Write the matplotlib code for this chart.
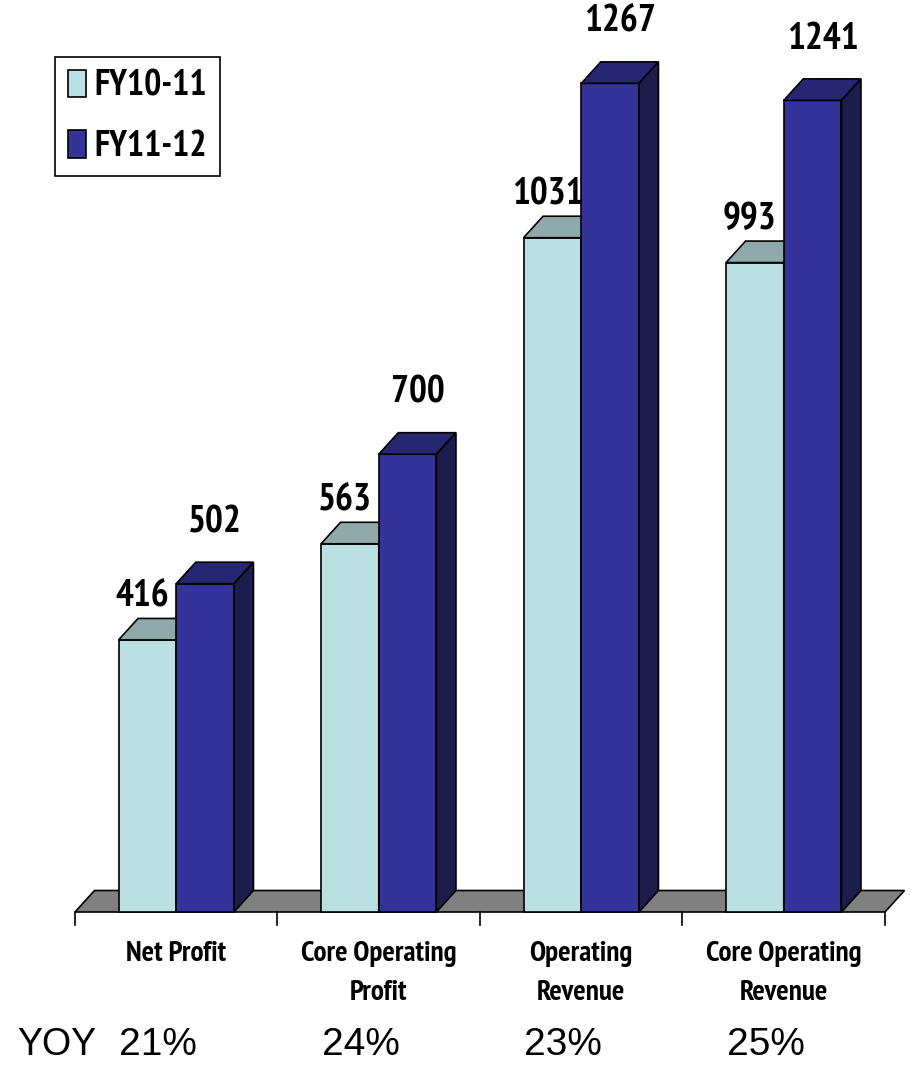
import matplotlib.pyplot as plt
from matplotlib.patches import Polygon, Patch

categories = ['Net Profit', 'Core Operating\nProfit', 'Operating\nRevenue', 'Core Operating\nRevenue']
fy10_11 = [416, 563, 1031, 993]
fy11_12 = [502, 700, 1267, 1241]
yoy = ['21%', '24%', '23%', '25%']
series = ['FY10-11', 'FY11-12']

# colours: front, top, side
light = ('#BBE0E3', '#8FA9AB', '#6E8A8C')
dark = ('#333399', '#262673', '#1C1C4D')

W, H = 912, 1073
X0, Y0 = 75, 912        # pixel position of the floor's front-left corner
PX_CAT = 202.5          # pixels per category
PX_VAL = 0.654          # pixels per unit value

def px_x(p):
    return -0.5 + (p - X0) / PX_CAT

def px_y(p):
    return (Y0 - p) / PX_VAL

narrow = ['Arial Narrow', 'Liberation Sans Narrow', 'PT Sans Narrow',
          'Archivo Narrow', 'Roboto Condensed', 'DejaVu Sans']
regular = ['Arial', 'Liberation Sans', 'Arimo', 'DejaVu Sans']

fig = plt.figure(figsize=(W / 100, H / 100), dpi=100)
ax = fig.add_axes([0, 0, 1, 1])
ax.set_xlim(px_x(0), px_x(W))
ax.set_ylim(px_y(H), px_y(0))
ax.axis('off')

dx = 19.5 / PX_CAT
dy = 21.5 / PX_VAL
n = len(categories)
bw = 0.285
lw = 1.2

# floor
ax.add_patch(Polygon([(-0.5, 0), (n - 0.5, 0), (n - 0.5 + dx, dy), (-0.5 + dx, dy)],
                     closed=True, facecolor='#808080', edgecolor='black', lw=lw, zorder=1))
for k in range(n + 1):
    ax.plot([k - 0.5, k - 0.5], [0, px_y(925)], color='black', lw=lw, zorder=1)


def bar3d(x, h, cols, z):
    front, top, side = cols
    ax.add_patch(Polygon([(x, 0), (x + bw, 0), (x + bw, h), (x, h)],
                         facecolor=front, edgecolor='black', lw=lw, zorder=z))
    ax.add_patch(Polygon([(x, h), (x + bw, h), (x + bw + dx, h + dy), (x + dx, h + dy)],
                         facecolor=top, edgecolor='black', lw=lw, zorder=z))
    ax.add_patch(Polygon([(x + bw, 0), (x + bw + dx, dy), (x + bw + dx, h + dy), (x + bw, h)],
                         facecolor=side, edgecolor='black', lw=lw, zorder=z))


for i in range(n):
    bar3d(i - bw, fy10_11[i], light, 2 + 2 * i)
    bar3d(i, fy11_12[i], dark, 3 + 2 * i)
    ax.annotate(str(fy10_11[i]), (i - bw / 2, fy10_11[i]), xytext=(-3.6, 31),
                textcoords='offset points', ha='center', va='center',
                fontsize=27, fontweight='bold', family=narrow, zorder=20)
    ax.annotate(str(fy11_12[i]), (i + bw / 2, fy11_12[i]), xytext=(7.2, 44),
                textcoords='offset points', ha='center', va='center',
                fontsize=27, fontweight='bold', family=narrow, zorder=20)
    ax.text(i, px_y(941), categories[i], ha='center', va='top', fontsize=21,
            fontweight='bold', family=narrow, linespacing=1.65)
    ax.text(i - 0.09, px_y(1045), yoy[i], ha='center', va='center',
            fontsize=28, family=regular)

ax.text(px_x(17), px_y(1045), 'YOY', ha='left', va='center', fontsize=27, family=regular)

handles = [Patch(facecolor=light[0], edgecolor='black', lw=lw),
           Patch(facecolor=dark[0], edgecolor='black', lw=lw)]
leg = ax.legend(handles, series, loc='upper left', bbox_to_anchor=(55 / W, 1 - 57 / H),
                bbox_transform=fig.transFigure, borderaxespad=0,
                prop={'family': narrow, 'weight': 'bold', 'size': 26},
                handlelength=0.5, handleheight=0.8, handletextpad=0.25,
                labelspacing=0.75, borderpad=0.35, fancybox=False, framealpha=1)
leg.get_frame().set_edgecolor('black')
leg.get_frame().set_linewidth(1.2)

fig.savefig('out.png', dpi=100)
